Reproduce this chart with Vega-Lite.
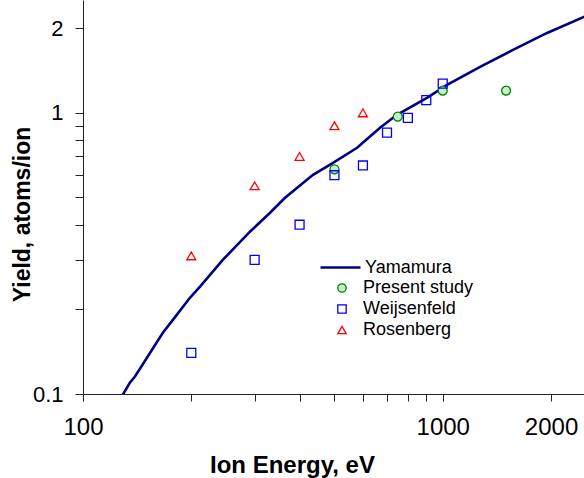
{
  "$schema": "https://vega.github.io/schema/vega-lite/v6.json",
  "width": 501,
  "height": 394,
  "autosize": {"type": "none"},
  "padding": {"left": 83, "top": 0, "right": 0, "bottom": 84},
  "background": "white",
  "config": {
    "view": {"stroke": null},
    "font": "Liberation Sans",
    "axis": {"grid": false, "domainColor": "#222", "tickColor": "#222", "labelColor": "#000", "titleColor": "#000", "labelFont": "Liberation Sans", "titleFont": "Liberation Sans"},
    "legend": {
      "title": null, "padding": 0, "labelFontSize": 18, "labelFont": "Liberation Sans", "labelColor": "#000", "rowPadding": 3
    }
  },
  "data": {
    "values": [
      {"series": "Yamamura", "energy": 126.7, "yield": 0.0956},
      {"series": "Yamamura", "energy": 135.1, "yield": 0.1099},
      {"series": "Yamamura", "energy": 139.5, "yield": 0.1154},
      {"series": "Yamamura", "energy": 166.9, "yield": 0.1654},
      {"series": "Yamamura", "energy": 178, "yield": 0.1839},
      {"series": "Yamamura", "energy": 198.5, "yield": 0.2203},
      {"series": "Yamamura", "energy": 211.5, "yield": 0.2409},
      {"series": "Yamamura", "energy": 245, "yield": 0.3004},
      {"series": "Yamamura", "energy": 291.2, "yield": 0.3778},
      {"series": "Yamamura", "energy": 331.1, "yield": 0.4413},
      {"series": "Yamamura", "energy": 364.5, "yield": 0.499},
      {"series": "Yamamura", "energy": 435.9, "yield": 0.602},
      {"series": "Yamamura", "energy": 495.5, "yield": 0.664},
      {"series": "Yamamura", "energy": 577.9, "yield": 0.751},
      {"series": "Yamamura", "energy": 669.5, "yield": 0.885},
      {"series": "Yamamura", "energy": 746, "yield": 0.984},
      {"series": "Yamamura", "energy": 904, "yield": 1.131},
      {"series": "Yamamura", "energy": 1028, "yield": 1.257},
      {"series": "Yamamura", "energy": 1270, "yield": 1.457},
      {"series": "Yamamura", "energy": 1568, "yield": 1.674},
      {"series": "Yamamura", "energy": 1950, "yield": 1.924},
      {"series": "Yamamura", "energy": 2480, "yield": 2.2},
      {"series": "Present study", "energy": 500, "yield": 0.63},
      {"series": "Present study", "energy": 750, "yield": 0.97},
      {"series": "Present study", "energy": 1000, "yield": 1.2},
      {"series": "Present study", "energy": 1500, "yield": 1.2},
      {"series": "Weijsenfeld", "energy": 200, "yield": 0.14},
      {"series": "Weijsenfeld", "energy": 300, "yield": 0.3},
      {"series": "Weijsenfeld", "energy": 400, "yield": 0.4},
      {"series": "Weijsenfeld", "energy": 500, "yield": 0.6},
      {"series": "Weijsenfeld", "energy": 600, "yield": 0.65},
      {"series": "Weijsenfeld", "energy": 700, "yield": 0.85},
      {"series": "Weijsenfeld", "energy": 800, "yield": 0.96},
      {"series": "Weijsenfeld", "energy": 900, "yield": 1.11},
      {"series": "Weijsenfeld", "energy": 1000, "yield": 1.27},
      {"series": "Rosenberg", "energy": 200, "yield": 0.31},
      {"series": "Rosenberg", "energy": 300, "yield": 0.55},
      {"series": "Rosenberg", "energy": 400, "yield": 0.7},
      {"series": "Rosenberg", "energy": 500, "yield": 0.9},
      {"series": "Rosenberg", "energy": 600, "yield": 1.0}
    ]
  },
  "encoding": {
    "x": {
      "field": "energy", "type": "quantitative",
      "scale": {"type": "log", "domain": [100, 2470], "nice": false, "zero": false},
      "axis": {
        "title": "Ion Energy, eV", "titleFontSize": 24, "titleFontWeight": "bold",
        "titleX": 209, "titleY": 78, "titleBaseline": "alphabetic", "titleAlign": "center",
        "values": [100, 200, 300, 400, 500, 600, 700, 800, 900, 1000, 2000],
        "format": "~g",
        "labelExpr": "datum.value == 100 || datum.value == 1000 || datum.value == 2000 ? datum.label : ''",
        "labelFontSize": 24, "labelPadding": 14, "labelFlush": false, "labelOverlap": false,
        "tickSize": 7, "domainWidth": 1, "tickWidth": 1
      }
    },
    "y": {
      "field": "yield", "type": "quantitative",
      "scale": {"type": "log", "domain": [0.1, 2.52], "nice": false, "zero": false},
      "axis": {
        "title": "Yield, atoms/ion", "titleFontSize": 23, "titleFontWeight": "bold",
        "titleX": -54, "titleY": 214, "titleBaseline": "alphabetic", "titleAlign": "center", "titleAngle": 270,
        "values": [0.1, 0.2, 0.3, 0.4, 0.5, 0.6, 0.7, 0.8, 0.9, 1, 2],
        "format": "~g",
        "labelExpr": "datum.value == 0.1 || datum.value == 1 || datum.value == 2 ? datum.label : ''",
        "labelFontSize": 22, "labelPadding": 12, "labelFlush": false, "labelOverlap": false,
        "tickSize": 8, "domainWidth": 1, "tickWidth": 1
      }
    }
  },
  "layer": [
    {
      "transform": [{"filter": "datum.series == 'Yamamura'"}],
      "mark": {"type": "line", "strokeWidth": 2.6, "clip": true},
      "encoding": {
        "color": {
          "field": "series", "type": "nominal",
          "scale": {"domain": ["Yamamura"], "range": ["#000080"]},
          "legend": {
            "orient": "none", "legendX": 236, "legendY": 246,
            "symbolType": "stroke", "symbolSize": 1600, "symbolStrokeWidth": 2.6, "labelOffset": 3
          }
        }
      }
    },
    {
      "transform": [{"filter": "datum.series != 'Yamamura'"}],
      "mark": {"type": "point", "size": 80, "strokeWidth": 1.3, "opacity": 1, "clip": true},
      "encoding": {
        "shape": {
          "field": "series", "type": "nominal",
          "scale": {"domain": ["Present study", "Weijsenfeld", "Rosenberg"], "range": ["circle", "square", "triangle-up"]},
          "legend": {"orient": "none", "legendX": 250, "legendY": 279, "symbolSize": 70, "symbolStrokeWidth": 1.3, "labelOffset": 12}
        },
        "stroke": {
          "field": "series", "type": "nominal",
          "scale": {"domain": ["Present study", "Weijsenfeld", "Rosenberg"], "range": ["#008000", "#0000ff", "#ff0000"]},
          "legend": {"orient": "none", "legendX": 250, "legendY": 279, "symbolSize": 70, "symbolStrokeWidth": 1.3, "labelOffset": 12}
        },
        "fill": {
          "field": "series", "type": "nominal",
          "scale": {"domain": ["Present study", "Weijsenfeld", "Rosenberg"], "range": ["#c4f0c4", "transparent", "transparent"]},
          "legend": {"orient": "none", "legendX": 250, "legendY": 279, "symbolSize": 70, "symbolStrokeWidth": 1.3, "labelOffset": 12}
        }
      }
    }
  ]
}
